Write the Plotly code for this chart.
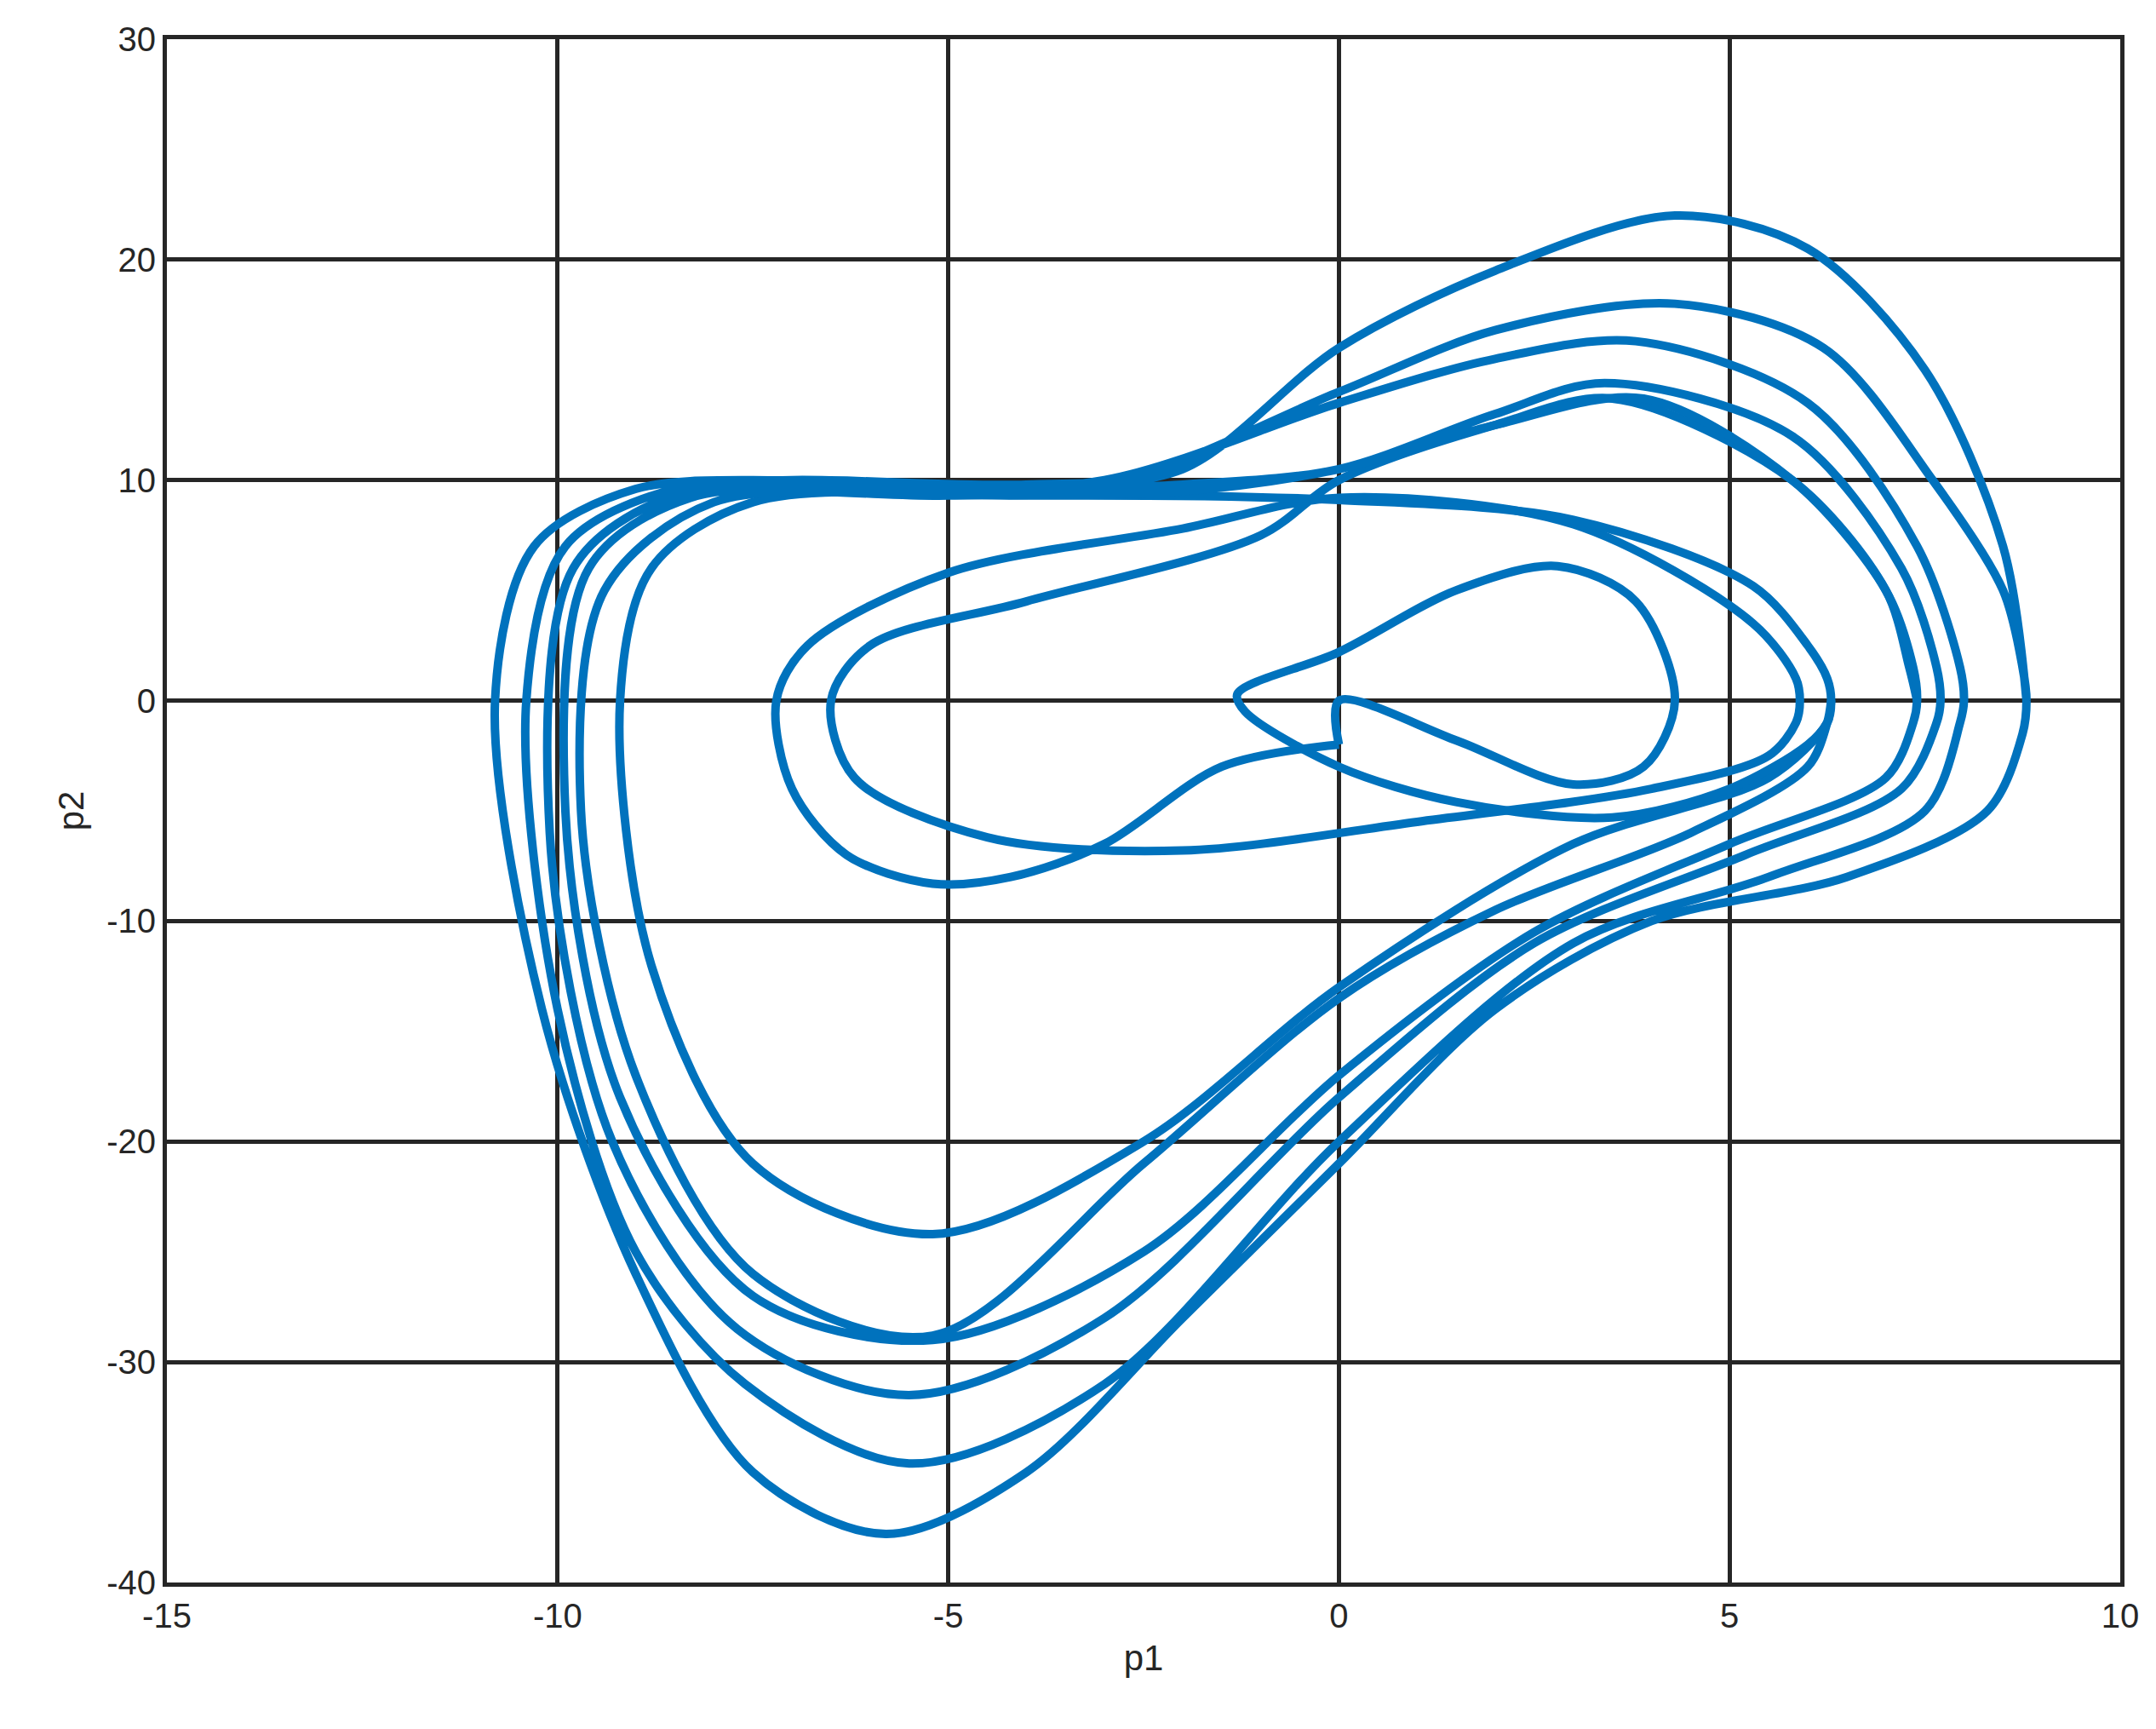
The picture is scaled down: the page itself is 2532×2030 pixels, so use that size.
import plotly.graph_objects as go

# traced trajectory pieces
# start at (0,-2), small loop around x=-7
start_x = [0, -1.5, -3, -4.2, -5.2, -6.3, -7.0, -7.2, -6.8, -5, -2, 0, 3, 5.3, 5.85, 5.9, 5.85, 5.5, 4, 1, -2, -4.5, -6.2, -6.5, -6.0, -4, -1, 0, 2, 3.5, 5.8, 7.0, 7.3, 7.4]
start_y = [-2, -3, -6.5, -8, -8.3, -7, -4, 0, 2.5, 5.8, 7.8, 9.2, 8, 3.5, 1, 0, -1, -2.5, -4, -5.5, -6.8, -6.2, -3.5, 0, 2.5, 4.5, 7.5, 10, 12.5, 13.7, 10, 5, 1.5, 0]

# the -24 loop
mid_x = [6.3, 6.25, 5.5, 3, 0, -2.5, -5.2, -7.5, -8.8, -9.2, -8.8, -7.5, -4, 0, 3, 5.3, 6.0, 6.25, 6.3]
mid_y = [0, -1, -3.5, -6.5, -13, -20, -24.2, -21, -12, 0, 6, 9.0, 9.3, 9.1, 8.2, 5.2, 2.5, 1, 0]

# inner lobe, then the growing outer loops
lobe_x = [0, 0, 1.5, 3, 3.9, 4.3, 3.8, 2.8, 1.5, 0, -1.3, -1.2, 0, 1.5, 3.5, 5, 6.0, 6.25, 6.3]
lobe_y = [-2, 0, -1.8, -3.8, -3, 0, 4.5, 6.1, 5, 2.2, 0.3, -0.5, -3, -4.6, -5.3, -4, -2, -1, 0]

loop_x = [
    [6.25, 6.0, 4.5, 2, 0, -2.5, -5.2, -7.5, -9.0, -9.7, -9.4, -8, -5, -2, 0, 2, 3.9, 5.8, 7.0, 7.35, 7.4],
    [7.35, 7.0, 5, 2.5, 0, -2.5, -5.2, -7.5, -9.2, -9.9, -9.6, -8.3, -5, -2, 0, 2, 3.4, 5.8, 7.2, 7.65, 7.7],
    [7.65, 7.2, 5.2, 2.5, 0, -3, -5.5, -7.7, -9.3, -10.1, -9.8, -8.5, -6, -3, 0, 2, 3.8, 6, 7.4, 7.95, 8.0],
    [7.95, 7.5, 5.5, 3, 0, -3, -5.5, -7.6, -9.0, -10.0, -10.4, -9.9, -8.5, -6, -3, 0, 2, 4.3, 6.2, 7.6, 8.5, 8.75, 8.8],
    [8.75, 8.3, 6.5, 4, 2, 0, -2, -4, -5.8, -7.5, -9, -10.2, -10.8, -10.3, -9, -7, -4, -2, 0, 2, 4.3, 6, 7.5, 8.5, 8.8],
]
loop_y = [
    [-1, -3, -6, -9.5, -13.5, -21, -28.8, -26, -17, -5, 5, 9, 9.3, 9.5, 10.5, 12.5, 13.7, 10, 5, 1.5, 0],
    [-1, -3.5, -6.5, -10.5, -17, -25, -29, -27, -18, -5, 6, 9.2, 9.5, 9.8, 10.5, 13, 14.4, 12, 6, 1.5, 0],
    [-1, -4, -7, -11, -18, -28, -31.5, -28.5, -20, -6, 6, 9.3, 9.6, 10, 13.5, 15.5, 16.3, 13.5, 7, 1.5, 0],
    [-1, -5, -8, -11, -20, -31, -34.6, -31, -25, -14, 0, 7, 9.6, 9.9, 9.8, 14, 16.8, 18, 16, 10, 5, 1.5, 0],
    [-1.5, -5, -8, -10, -14, -21, -28, -35, -37.8, -35, -26, -14, 0, 7, 9.6, 10, 9.8, 10.5, 16, 19.5, 22, 20.5, 15, 7, 0],
]

xs = start_x + [None] + mid_x + [None] + lobe_x
ys = start_y + [None] + mid_y + [None] + lobe_y
for lx, ly in zip(loop_x, loop_y):
    xs += lx
    ys += ly

fig = go.Figure(go.Scatter(x=xs, y=ys, mode="lines", connectgaps=False,
                           line=dict(color="#0072BD", width=10, shape="spline", smoothing=0.9)))

x_ticks = [-15, -10, -5, 0, 5, 10]
y_ticks = [-40, -30, -20, -10, 0, 10, 20, 30]
axis = dict(showgrid=True, gridcolor="#262626", gridwidth=5, zeroline=False,
            showline=True, linecolor="#262626", linewidth=5, mirror=True,
            ticks="", tickfont=dict(size=40, color="#262626"))
fig.update_xaxes(range=[-15, 10], tickvals=x_ticks, ticktext=[str(v) for v in x_ticks],
                 title=dict(text="p1", font=dict(size=42)), **axis)
fig.update_yaxes(range=[-40, 30], tickvals=y_ticks, ticktext=[str(v) for v in y_ticks],
                 title=dict(text="p2", font=dict(size=42)), **axis)
fig.update_layout(width=2532, height=2030, plot_bgcolor="white", paper_bgcolor="white",
                  font=dict(family="Liberation Sans", color="#262626"),
                  margin=dict(l=188, r=50, t=38, b=180), showlegend=False)
fig.write_html("out.html")
